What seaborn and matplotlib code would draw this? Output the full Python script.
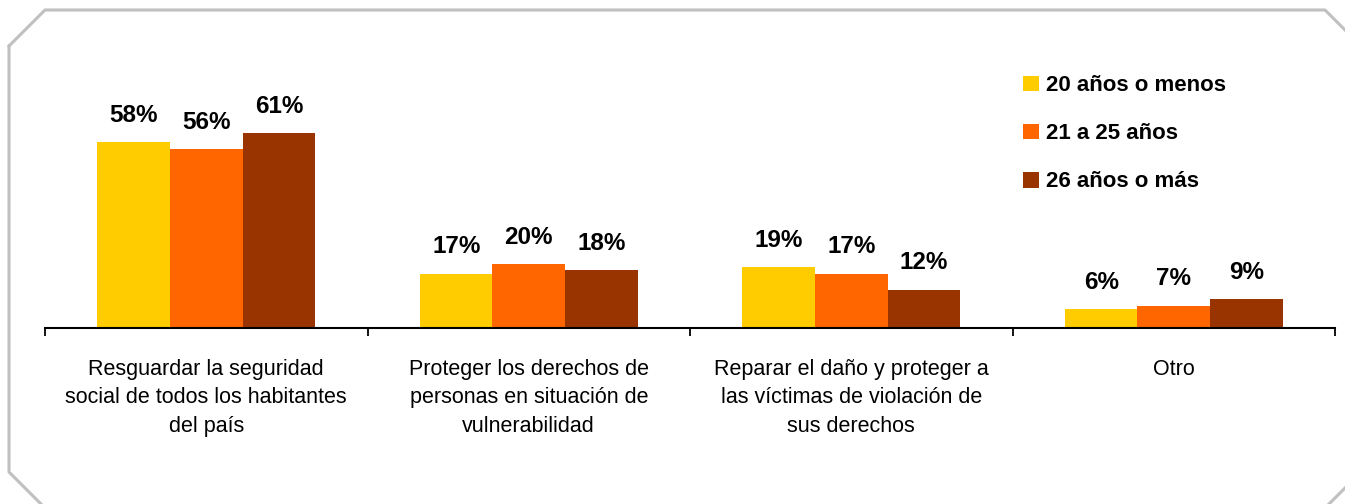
import matplotlib
matplotlib.use("Agg")
import matplotlib.pyplot as plt
import seaborn as sns
import pandas as pd
from matplotlib.lines import Line2D

categories = [
    "Resguardar la seguridad\nsocial de todos los habitantes\ndel país",
    "Proteger los derechos de\npersonas en situación de\nvulnerabilidad",
    "Reparar el daño y proteger a\nlas víctimas de violación de\nsus derechos",
    "Otro",
]
groups = ["20 años o menos", "21 a 25 años", "26 años o más"]
vals_20 = [58, 17, 19, 6]
vals_21 = [56, 20, 17, 7]
vals_26 = [61, 18, 12, 9]
colors = ["#FFCC00", "#FF6600", "#993300"]

rows = []
for g, vals in zip(groups, [vals_20, vals_21, vals_26]):
    for c, v in zip(categories, vals):
        rows.append({"cat": c, "grupo": g, "valor": v})
df = pd.DataFrame(rows)

sns.set_style("white")
plt.rcParams["font.family"] = ["Liberation Sans", "DejaVu Sans"]
plt.rcParams["text.color"] = "black"
plt.rcParams["xtick.color"] = "black"
plt.rcParams["xtick.labelcolor"] = "black"

W, H = 1345, 504
fig = plt.figure(figsize=(W / 100, H / 100), dpi=100)
ax = fig.add_axes([45 / W, (H - 328) / H, 1290 / W, 320 / H])

sns.barplot(data=df, x="cat", y="valor", hue="grupo", hue_order=groups,
            order=categories, palette=colors, width=0.675, saturation=1,
            linewidth=0, edgecolor="none", ax=ax, legend=True)

ax.set_xlim(-0.5, 3.5)
ax.set_ylim(0, 100)
ax.set_xlabel("")
ax.set_ylabel("")
ax.set_yticks([])
for s in ["top", "right", "left"]:
    ax.spines[s].set_visible(False)
ax.spines["bottom"].set_color("black")
ax.spines["bottom"].set_linewidth(1.5)

ax.set_xticks(range(len(categories)))
ax.set_xticklabels(categories, fontsize=15.5, linespacing=1.45, color="black")
ax.tick_params(axis="x", which="major", length=0, pad=22.5)
ax.set_xticks([i - 0.5 for i in range(len(categories) + 1)], minor=True)
ax.tick_params(axis="x", which="minor", length=6, width=1.3, color="black",
               direction="out", bottom=True)

for cont in ax.containers:
    ax.bar_label(cont, labels=[f"{int(v)}%" for v in cont.datavalues],
                 padding=11, fontsize=17.5, fontweight="bold", color="black")

leg = ax.legend(loc="upper left", bbox_to_anchor=(0.7585, 0.79),
                frameon=False, prop={"size": 16, "weight": "bold"},
                handlelength=0.72, handleheight=0.72, handletextpad=0.3,
                labelspacing=1.22, borderpad=0, borderaxespad=0)
for t in leg.get_texts():
    t.set_color("black")

pts = [(9, 46), (45, 10), (1325, 10), (1361, 46), (1361, 472),
       (1325, 508), (45, 508), (9, 472), (9, 46)]
xs = [p[0] / W for p in pts]
ys = [1 - p[1] / H for p in pts]
fig.add_artist(Line2D(xs, ys, transform=fig.transFigure, color="#C0C0C0",
                      linewidth=2.2, clip_on=False))

fig.savefig("out.png", dpi=100)
